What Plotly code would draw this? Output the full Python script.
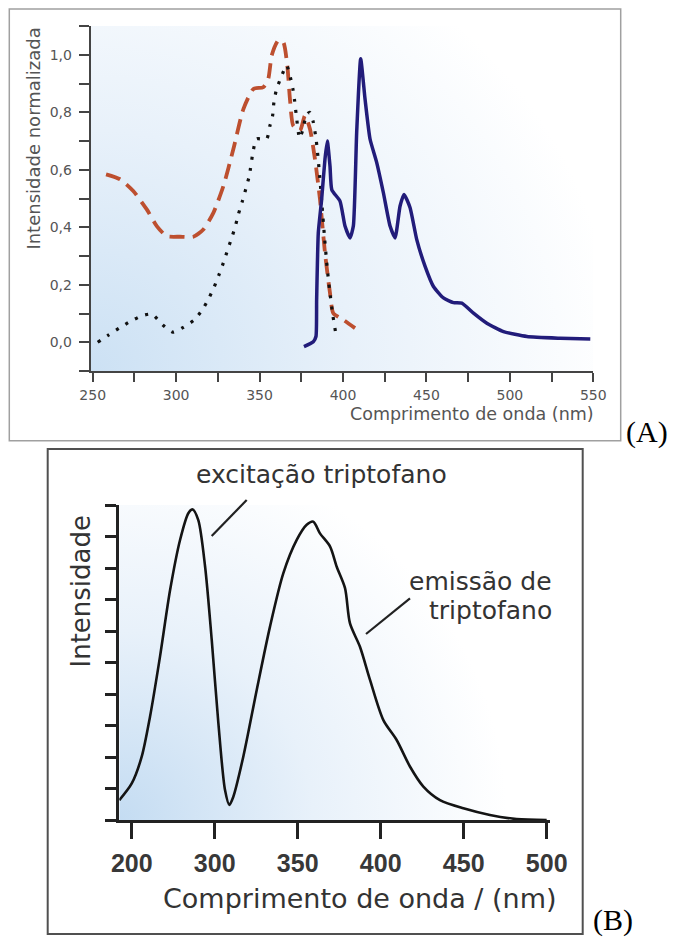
import base64
import plotly.graph_objects as go

# ---------------- Panel A data ----------------
a_dash_x = [258, 266.4, 274.3, 282.4, 288.4, 294.3, 302.3, 310.3, 316.3, 322.3, 328.3, 334.3, 340.3,
            346.3, 352.2, 355.2, 357.3, 361.2, 364.2, 366.6, 368.2, 370.2, 374.2, 377.2, 380.2,
            383.2, 386.2, 389.2, 392.2, 394.2, 400.2, 407.2]
a_dash_y = [0.584, 0.567, 0.526, 0.462, 0.404, 0.369, 0.367, 0.367, 0.392, 0.45, 0.543, 0.672, 0.811,
            0.881, 0.887, 0.916, 0.998, 1.05, 1.044, 0.963, 0.846, 0.753, 0.736, 0.788, 0.742,
            0.637, 0.497, 0.311, 0.171, 0.101, 0.078, 0.049]

a_dot_x = [253, 259.4, 265.8, 272.4, 279.4, 285.4, 292, 298, 304.3, 310.9, 315.7, 319.7, 322.9,
           325.7, 328.3, 330.9, 333.3, 335.5, 337.3, 339.7, 341.7, 343.8, 346.2, 348.2, 354.2,
           356.2, 357.8, 358.6, 360.2, 362.8, 366.2, 368.5, 370, 371, 372, 374, 376, 378, 380,
           382, 384, 386, 387.5, 389, 390.5, 392, 394, 396]
a_dot_y = [0.0, 0.025, 0.049, 0.072, 0.092, 0.098, 0.06, 0.035, 0.052, 0.078, 0.113, 0.154, 0.194,
           0.235, 0.276, 0.322, 0.363, 0.404, 0.445, 0.491, 0.532, 0.578, 0.666, 0.707, 0.707,
           0.753, 0.788, 0.835, 0.881, 0.92, 0.963, 0.92, 0.88, 0.84, 0.79, 0.71, 0.74, 0.79, 0.80,
           0.77, 0.70, 0.58, 0.47, 0.36, 0.26, 0.18, 0.09, 0.02]

a_em_x = [376.6, 382.2, 383.8, 384.2, 385.2, 387.2, 389.2, 390.6, 392.2, 393.3, 398.2, 401.2,
          404.2, 406.2, 408.2, 410.6, 413.2, 416.2, 420.2, 424.2, 428.2, 431.2, 434.2, 436.6,
          440.2, 444.2, 449.2, 454.2, 460.2, 466.2, 471.2, 478.2, 486.2, 496.2, 510.2, 530.2, 548.2]
a_em_y = [-0.015, 0.002, 0.02, 0.148, 0.381, 0.497, 0.637, 0.70, 0.613, 0.53, 0.491, 0.404,
          0.363, 0.404, 0.73, 0.986, 0.846, 0.707, 0.625, 0.52, 0.404, 0.363, 0.474, 0.514,
          0.468, 0.357, 0.264, 0.194, 0.154, 0.138, 0.136, 0.101, 0.066, 0.037, 0.02, 0.014, 0.011]

a_y_ticks = [0.0, 0.2, 0.4, 0.6, 0.8, 1.0]

# ---------------- Panel B data ----------------
b_x = [242.5, 250, 256, 261, 267, 273.1, 279.1, 284.1, 286.7, 290.1, 294.2, 298.2, 302.2, 306.2,
       308.8, 311.2, 317.2, 325.3, 333.3, 341.3, 349.4, 355.4, 359.4, 363.4, 369.5, 373.5, 378.5,
       381.5, 387.5, 393.6, 401.6, 409.6, 417.7, 425.7, 435.7, 449.8, 465.8, 481.9, 500]
b_y = [0.63, 1.16, 2.01, 3.28, 5.18, 7.30, 8.89, 9.74, 9.86, 9.52, 8.04, 5.71, 3.07, 0.95,
       0.48, 0.74, 2.01, 4.13, 6.14, 7.83, 8.89, 9.37, 9.47, 9.10, 8.68, 8.04, 7.36,
       6.24, 5.50, 4.44, 3.17, 2.54, 1.69, 1.06, 0.63, 0.37, 0.16, 0.03, 0.0]
b_tick_vals = [250, 300, 350, 400, 450, 500]
b_tick_text = ["200", "300", "350", "400", "450", "500"]

W, H = 673, 939


def px(x):
    return x / W


def py(y):
    return 1 - y / H


def grad_svg(c0, c1, r):
    svg = (
        '<svg xmlns="http://www.w3.org/2000/svg" width="400" height="300" viewBox="0 0 400 300" '
        'preserveAspectRatio="none">'
        '<defs><radialGradient id="g" cx="0" cy="300" r="%d" gradientUnits="userSpaceOnUse">'
        '<stop offset="0" stop-color="%s"/>'
        '<stop offset="0.5" stop-color="%s"/>'
        '<stop offset="1" stop-color="#ffffff"/>'
        '</radialGradient></defs>'
        '<rect x="0" y="0" width="400" height="300" fill="url(#g)"/></svg>' % (r, c0, c1)
    )
    return "data:image/svg+xml;base64," + base64.b64encode(svg.encode()).decode()


# domains in pixels
A_x0, A_x1, A_y0, A_y1 = 90.7, 593.3, 26, 371
B_x0, B_x1, B_y0, B_y1 = 119.3, 550, 505, 820

fig = go.Figure()

fig.add_trace(go.Scatter(x=a_dash_x, y=a_dash_y, mode="lines", xaxis="x", yaxis="y",
                         line=dict(color="#bd4f2f", width=3.8, dash="15px,8px", shape="spline",
                                   smoothing=0.6)))
fig.add_trace(go.Scatter(x=a_dot_x, y=a_dot_y, mode="lines", xaxis="x", yaxis="y",
                         line=dict(color="#111111", width=3.2, dash="3px,8px", shape="spline",
                                   smoothing=0.6)))
fig.add_trace(go.Scatter(x=a_em_x, y=a_em_y, mode="lines", xaxis="x", yaxis="y",
                         line=dict(color="#221c7a", width=3.5, shape="spline", smoothing=0.5)))
fig.add_trace(go.Scatter(x=b_x, y=b_y, mode="lines", xaxis="x2", yaxis="y2",
                         line=dict(color="#141414", width=2.6, shape="spline", smoothing=0.8)))

tickA = dict(family="DejaVu Sans", size=14, color="#555555")
tickB = dict(family="Liberation Sans", size=25, color="#383838", weight="bold")

fig.update_layout(
    width=W, height=H, autosize=False,
    margin=dict(l=0, r=0, t=0, b=0, pad=0, autoexpand=False),
    paper_bgcolor="white", plot_bgcolor="rgba(0,0,0,0)",
    showlegend=False, separators=",.",
    xaxis=dict(domain=[px(A_x0), px(A_x1)], range=[248.8, 550], anchor="y",
               tick0=250, dtick=50, ticks="outside", ticklen=9, tickwidth=2, tickcolor="#444",
               showline=True, linecolor="#444", linewidth=2, showgrid=False, zeroline=False,
               minor=dict(ticks="outside", tick0=250, dtick=25, ticklen=9, tickwidth=2,
                          tickcolor="#444", showgrid=False),
               tickfont=tickA, ticklabelstandoff=1, automargin=False),
    yaxis=dict(domain=[py(A_y1), py(A_y0)], range=[-0.1, 1.1], anchor="x",
               tickvals=a_y_ticks, tickformat=".1f", ticks="outside", ticklen=10, tickwidth=2,
               tickcolor="#444", showline=True, linecolor="#444", linewidth=2, showgrid=False,
               zeroline=False,
               minor=dict(ticks="outside", tick0=-0.1, dtick=0.1, ticklen=10, tickwidth=2,
                          tickcolor="#444", showgrid=False),
               tickfont=tickA, ticklabelstandoff=4, automargin=False),
    xaxis2=dict(domain=[px(B_x0), px(B_x1)], range=[242.5, 502], anchor="y2",
                tickvals=b_tick_vals, ticktext=b_tick_text, ticks="outside", ticklen=16,
                tickwidth=3, tickcolor="#222", showline=True, linecolor="#222", linewidth=3,
                showgrid=False, zeroline=False, tickfont=tickB, ticklabelstandoff=3,
                automargin=False),
    yaxis2=dict(domain=[py(B_y1), py(B_y0)], range=[0, 10], anchor="x2",
                tick0=0, dtick=1, ticks="outside", ticklen=11, tickwidth=3, tickcolor="#222",
                showline=True, linecolor="#222", linewidth=3, showgrid=False, zeroline=False,
                showticklabels=False, automargin=False),
)

fig.add_layout_image(dict(source=grad_svg("#cce1f4", "#e8f1fa", 420), xref="paper", yref="paper",
                          x=px(A_x0), y=py(A_y0), sizex=px(A_x1) - px(A_x0),
                          sizey=py(A_y0) - py(A_y1), xanchor="left", yanchor="top",
                          sizing="stretch", layer="below"))
fig.add_layout_image(dict(source=grad_svg("#c4dcf2", "#e8f1fa", 360), xref="paper", yref="paper",
                          x=px(B_x0), y=py(B_y0), sizex=px(B_x1) - px(B_x0),
                          sizey=py(B_y0) - py(B_y1), xanchor="left", yanchor="top",
                          sizing="stretch", layer="below"))

# frames
fig.add_shape(type="rect", xref="paper", yref="paper", x0=px(9.3), x1=px(620.7), y0=py(440.7),
              y1=py(9), line=dict(color="#a0a0a0", width=1.5))
fig.add_shape(type="rect", xref="paper", yref="paper", x0=px(47.7), x1=px(582.7), y0=py(934),
              y1=py(449), line=dict(color="#505050", width=2))
# connector lines
fig.add_shape(type="line", xref="paper", yref="paper", x0=px(246.7), y0=py(500), x1=px(211.7),
              y1=py(536), line=dict(color="#222", width=2.2))
fig.add_shape(type="line", xref="paper", yref="paper", x0=px(410), y0=py(598.3), x1=px(366),
              y1=py(634), line=dict(color="#222", width=2.2))


def ann(text, x, y, size, family="DejaVu Sans", color="#333333", angle=0, xanchor="center"):
    fig.add_annotation(text=text, x=px(x), y=py(y), xref="paper", yref="paper", showarrow=False,
                       font=dict(family=family, size=size, color=color), textangle=angle,
                       xanchor=xanchor, yanchor="middle", borderpad=0)


ann("Intensidade normalizada", 33.3, 138.3, 18, color="#555555", angle=-90)
ann("Comprimento de onda (nm)", 472.5, 414, 17.5, color="#555555")
ann("(A)", 647, 432, 30, family="Liberation Serif", color="#000000")
ann("(B)", 613.3, 920, 30, family="Liberation Serif", color="#000000")
ann("Intensidade", 80, 591.5, 26, angle=-90)
ann("Comprimento de onda / (nm)", 360, 898, 27)
ann("excitação triptofano", 321.5, 475, 25)
ann("emissão de", 553, 581.7, 25, xanchor="right")
ann("triptofano", 553, 610, 25, xanchor="right")

fig.write_html("out.html", config={"displayModeBar": False},
               post_script="document.body.style.margin='0';")
